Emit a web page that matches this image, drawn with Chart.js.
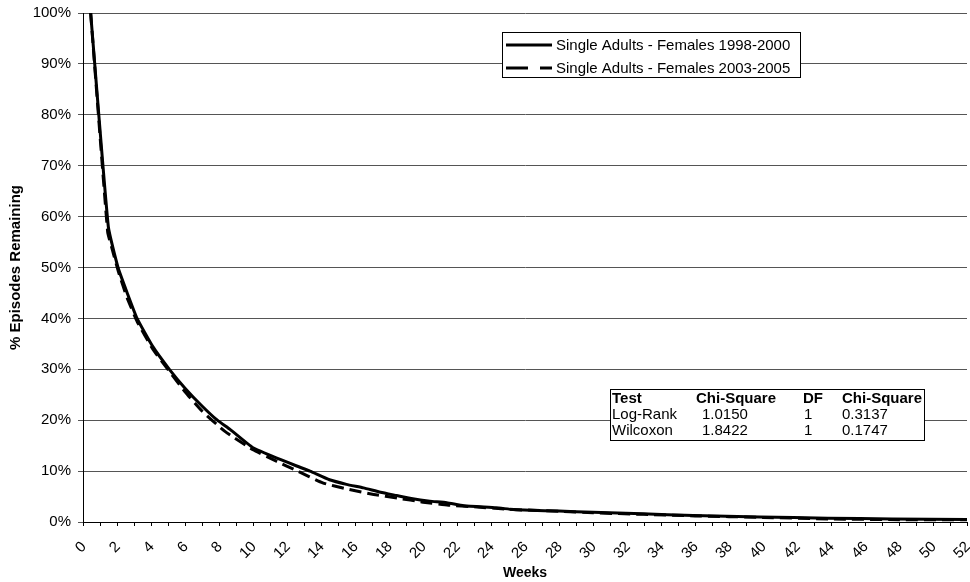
<!DOCTYPE html>
<html><head><meta charset="utf-8">
<script src="https://cdn.jsdelivr.net/npm/chart.js@4.4.0/dist/chart.umd.min.js"></script>
<style>html,body{margin:0;padding:0;background:#fff}#wrap{width:970px;height:582px}</style>
</head><body><div id="wrap"><canvas id="c" width="970" height="582"></canvas></div>
<script>
// ---- data ----
const seriesNames = ['Single Adults - Females 1998-2000', 'Single Adults - Females 2003-2005'];
const weeksA  = [0.45, 1.49, 2.06, 2.6, 3.18, 4.1, 5.08, 6.0, 7.0, 7.9, 8.65, 10.0, 11.6, 12.57, 13.35, 14.5, 15.5, 16.5, 17.5, 18.45, 19.4, 20.4, 21.4, 22.4, 24.3, 25.3, 26.3, 28.0, 30.0, 32.9, 35.9, 39.8, 43.8, 47.6, 52.0];
const valuesA = [100, 58.0, 50.0, 45.0, 40.0, 34.5, 30.0, 26.3, 22.8, 20.0, 18.2, 14.6, 12.3, 11.0, 10.0, 8.3, 7.4, 6.7, 5.85, 5.2, 4.55, 4.1, 3.8, 3.2, 2.8, 2.45, 2.3, 2.15, 1.9, 1.6, 1.3, 1.0, 0.75, 0.6, 0.5];
const weeksB  = [0.45, 1.45, 1.7, 2.1, 2.6, 3.2, 4.1, 5.1, 6.0, 7.0, 8.35, 10.0, 11.4, 12.5, 14.1, 15.5, 17.1, 18.5, 20.0, 21.5, 23.0, 25.0, 28.0, 30.0, 33.0, 36.0, 40.0, 44.0, 48.0, 52.0];
const valuesB = [100, 57.0, 53.8, 49.0, 44.0, 39.3, 34.0, 29.5, 25.6, 21.8, 17.8, 14.2, 11.9, 10.2, 7.7, 6.5, 5.4, 4.7, 3.9, 3.3, 3.0, 2.5, 2.1, 1.8, 1.5, 1.2, 0.9, 0.6, 0.45, 0.45];
const yTickValues = [0, 10, 20, 30, 40, 50, 60, 70, 80, 90, 100];
const xTickLabels = ['0','2','4','6','8','10','12','14','16','18','20','22','24','26','28','30','32','34','36','38','40','42','44','46','48','50','52'];
const xTitle = 'Weeks';
const yTitle = '% Episodes Remaining';
const tableHeader = ['Test', 'Chi-Square', 'DF', 'Chi-Square'];
const tableRow1 = ['Log-Rank', '1.0150', '1', '0.3137'];
const tableRow2 = ['Wilcoxon', '1.8422', '1', '0.1747'];

const FONT = '"Liberation Sans", Arial, sans-serif';
Chart.defaults.font.family = FONT;
Chart.defaults.color = '#000';

const overlayPlugin = {
  id: 'overlay',
  afterDraw(chart) {
    const ctx = chart.ctx;
    ctx.save();
    // legend box
    ctx.fillStyle = '#fff';
    ctx.fillRect(502.5, 32.5, 298, 45);
    ctx.strokeStyle = '#000';
    ctx.lineWidth = 1;
    ctx.setLineDash([]);
    ctx.strokeRect(502.5, 32.5, 298, 45);
    const ds = chart.data.datasets;
    const rowsY = [45, 68];
    ctx.font = '15px ' + FONT;
    ctx.textBaseline = 'middle';
    ctx.textAlign = 'left';
    ds.forEach((d, i) => {
      ctx.beginPath();
      ctx.lineWidth = 3;
      ctx.strokeStyle = d.borderColor;
      ctx.setLineDash(i === 0 ? [] : [22, 12]);
      ctx.moveTo(506, rowsY[i]);
      ctx.lineTo(552, rowsY[i]);
      ctx.stroke();
      ctx.setLineDash([]);
      ctx.fillStyle = '#000';
      ctx.fillText(d.label, 556, rowsY[i] + 0.5);
    });
    // stats table
    ctx.fillStyle = '#fff';
    ctx.fillRect(610.5, 389.5, 314, 51);
    ctx.lineWidth = 1;
    ctx.strokeStyle = '#000';
    ctx.strokeRect(610.5, 389.5, 314, 51);
    ctx.fillStyle = '#000';
    ctx.textBaseline = 'alphabetic';
    const headX = [612, 696, 803, 842];
    const valX = [612, 702, 804, 842];
    ctx.font = 'bold 15px ' + FONT;
    tableHeader.forEach((t, j) => ctx.fillText(t, headX[j], 403));
    ctx.font = '15px ' + FONT;
    [tableRow1, tableRow2].forEach((row, r) => {
      row.forEach((t, j) => ctx.fillText(t, valX[j], 419 + r * 15.6));
    });
    ctx.restore();
  }
};

const toPts = (xs, ys) => xs.map((x, i) => ({x: x, y: ys[i]}));
const noPad = s => { s.paddingLeft = 0; s.paddingRight = 0; s.paddingTop = 0; s.paddingBottom = 0; };

new Chart(document.getElementById('c'), {
  type: 'line',
  data: {
    datasets: [
      { label: seriesNames[0], data: toPts(weeksA, valuesA), borderColor: '#000', borderWidth: 3, pointRadius: 0, tension: 0.15, fill: false },
      { label: seriesNames[1], data: toPts(weeksB, valuesB), borderColor: '#000', borderWidth: 3, borderDash: [12, 6], pointRadius: 0, tension: 0.15, fill: false }
    ]
  },
  options: {
    responsive: false,
    devicePixelRatio: 1,
    animation: false,
    layout: { padding: { top: 13, right: 3, left: 0, bottom: 0 } },
    plugins: { legend: { display: false }, tooltip: { enabled: false } },
    scales: {
      x: {
        type: 'linear', min: 0, max: 52,
        afterFit: s => { s.height = 60; noPad(s); },
        afterBuildTicks: s => { s.ticks = Array.from({length: 53}, (_, i) => ({value: i})); },
        ticks: {
          autoSkip: false, minRotation: 45, maxRotation: 45, padding: 12, labelOffset: 1,
          font: { size: 15 }, color: '#000',
          callback: v => xTickLabels.includes(String(v)) ? String(v) : ''
        },
        grid: { drawOnChartArea: false, drawTicks: true, tickLength: 4, color: '#000' },
        border: { display: true, color: '#000', width: 1 },
        title: { display: true, text: xTitle, font: { size: 14, weight: 'bold' }, color: '#000', padding: { top: 0, bottom: 0 } }
      },
      y: {
        min: 0, max: 100,
        afterFit: s => { s.width = 83; noPad(s); },
        afterBuildTicks: s => { s.ticks = yTickValues.map(v => ({value: v})); },
        ticks: { padding: 7, font: { size: 15 }, color: '#000', callback: v => v + '%' },
        grid: { color: '#555', lineWidth: 1, tickLength: 5, drawTicks: true },
        border: { display: true, color: '#000', width: 1 },
        title: { display: true, text: yTitle, font: { size: 15, weight: 'bold' }, color: '#000', padding: { top: 7, bottom: 0 } }
      }
    }
  },
  plugins: [overlayPlugin]
});
</script>
</body></html>
